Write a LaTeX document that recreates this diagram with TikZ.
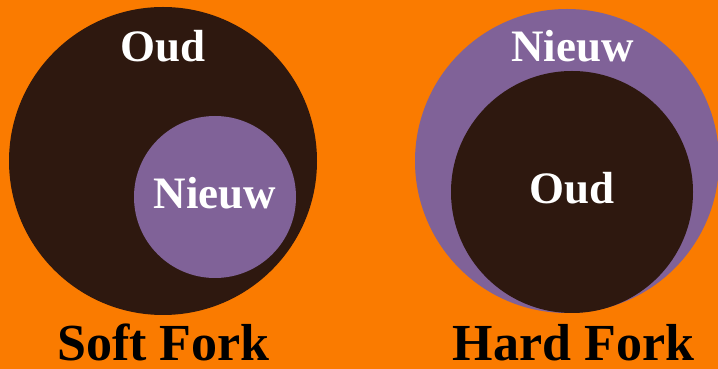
\documentclass[tikz,border=0pt]{standalone}
\usepackage{fontspec}
\setmainfont{Liberation Serif}
\definecolor{forkorange}{RGB}{250,123,0}
\definecolor{oudbrown}{RGB}{46,24,15}
\definecolor{nieuwpurple}{RGB}{128,98,152}
\begin{document}
\begin{tikzpicture}[x=0.25mm, y=0.25mm,
  label/.style={text=white, font=\bfseries\fontsize{32}{32}\selectfont, anchor=base, inner sep=0pt},
  title/.style={text=black, font=\bfseries\fontsize{37}{37}\selectfont, anchor=base, inner sep=0pt}]
  \useasboundingbox (0,0) rectangle (718,369);
  \clip (0,0) rectangle (718,369);
  \fill[forkorange] (0,0) rectangle (718,369);
  % soft fork
  \fill[oudbrown] (163,208) circle (154);
  \fill[nieuwpurple] (215,172) circle (81);
  \node[label] (softoud) at (163,307) {Oud};
  \node[label] (softnieuw) at (215,160) {Nieuw};
  \node[title] (soft) at (163.5,8) {Soft Fork};
  % hard fork
  \fill[nieuwpurple] (567,208) circle (152);
  \fill[oudbrown] (572,177) circle (121);
  \node[label] (hardnieuw) at (572.5,307) {Nieuw};
  \node[label] (hardoud) at (572,165) {Oud};
  \node[title] (hard) at (573.5,8) {Hard Fork};
\end{tikzpicture}
\end{document}
